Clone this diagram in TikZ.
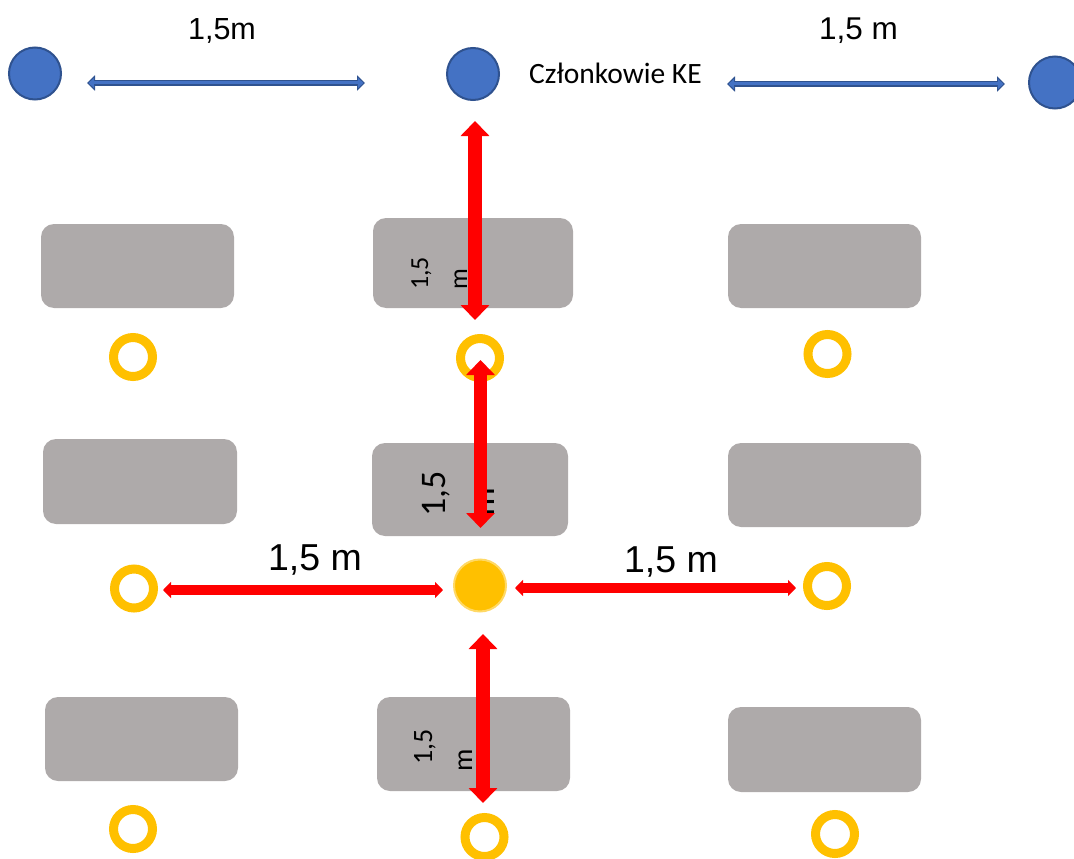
\documentclass[tikz,border=0pt]{standalone}
\usepackage{fontspec}
\setmainfont{Liberation Sans}
\newfontfamily\calib{Carlito}
\usetikzlibrary{arrows.meta}
\definecolor{bluefill}{HTML}{4472C4}
\definecolor{bluedark}{HTML}{2F528F}
\definecolor{gold}{HTML}{FFC000}
\definecolor{goldlight}{HTML}{FFD966}
\definecolor{tablegray}{HTML}{AEAAAA}
\definecolor{redarrow}{HTML}{FF0000}
\tikzset{
  tbl/.style={fill=tablegray, draw=none, rounded corners=13pt, inner sep=0pt},
  ring/.style={circle, draw=gold, line width=9pt, minimum size=39pt, inner sep=0pt},
  member/.style={circle, fill=bluefill, draw=bluedark, line width=2pt, minimum size=52pt, inner sep=0pt},
  bigred/.style={draw=redarrow, line width=13.5pt, {Triangle[width=28pt,length=15pt]}-{Triangle[width=28pt,length=15pt]}},
  smallred/.style={draw=redarrow, line width=10pt, {Triangle[width=16pt,length=8pt]}-{Triangle[width=16pt,length=8pt]}},
  bluearrowout/.style={draw=bluedark, line width=6pt, {Triangle[width=15pt,length=8pt]}-{Triangle[width=15pt,length=8pt]}},
  bluearrowin/.style={draw=bluefill, line width=3pt, shorten <=1.6pt, shorten >=1.6pt, {Triangle[width=10pt,length=5.5pt]}-{Triangle[width=10pt,length=5.5pt]}},
  lbl/.style={inner sep=0pt, text=black},
  rlbl/.style={inner sep=0pt, text=black, rotate=90, anchor=base west},
}
\begin{document}
\begin{tikzpicture}[x=1pt,y=-1pt]
\useasboundingbox (0,0) rectangle (1074,859);
% tables
\node[tbl, minimum width=193pt, minimum height=84pt] (b11) at (137.5,266) {};
\node[tbl, minimum width=200pt, minimum height=90pt] (b12) at (473,263) {};
\node[tbl, minimum width=193pt, minimum height=84pt] (b13) at (824.5,266) {};
\node[tbl, minimum width=194pt, minimum height=85pt] (b21) at (140,481.5) {};
\node[tbl, minimum width=196pt, minimum height=93pt] (b22) at (470,489.5) {};
\node[tbl, minimum width=193pt, minimum height=84pt] (b23) at (824.5,485) {};
\node[tbl, minimum width=193pt, minimum height=84pt] (b31) at (141.5,739) {};
\node[tbl, minimum width=193pt, minimum height=94pt] (b32) at (473.5,744) {};
\node[tbl, minimum width=193pt, minimum height=85pt] (b33) at (824.5,749.5) {};
% rotated labels on the middle tables
\node[rlbl, font=\calib\fontsize{26}{30}\selectfont] (l1a) at (428,290) {1,5};
\node[rlbl, font=\calib\fontsize{26}{30}\selectfont] (l1b) at (467,290) {m};
\node[rlbl, font=\calib\fontsize{36}{40}\selectfont] (l2a) at (445,517) {1,5};
\node[rlbl, font=\calib\fontsize{36}{40}\selectfont] (l2b) at (494,517) {m};
\node[rlbl, font=\calib\fontsize{28}{32}\selectfont] (l3a) at (432,765) {1,5};
\node[rlbl, font=\calib\fontsize{28}{32}\selectfont] (l3b) at (472,772) {m};
% seats
\node[ring] (r11) at (133,357) {};
\node[ring] (r12) at (480,358) {};
\node[ring] (r13) at (827.5,354) {};
\node[ring] (r21) at (134,588.5) {};
\node[circle, fill=gold, draw=goldlight, line width=2pt, minimum size=52pt, inner sep=0pt] (c) at (480,585.5) {};
\node[ring] (r23) at (827,586) {};
\node[ring] (r31) at (133,829) {};
\node[ring] (r32) at (484.5,837) {};
\node[ring] (r33) at (835,834) {};
% committee members
\node[member] (m1) at (35,73.5) {};
\node[member] (m2) at (473,74) {};
\node[member] (m3) at (1055,82.5) {};
% top labels
\node[lbl, anchor=base, font=\fontsize{30.5}{34}\selectfont] (t1) at (222,40) {1,5m};
\node[lbl, anchor=base, font=\fontsize{31.5}{34}\selectfont] (t2) at (858.5,40) {1,5 m};
\node[lbl, anchor=base west, font=\calib\fontsize{29.5}{32}\selectfont] (ke) at (529,84) {Członkowie KE};
\node[lbl, anchor=base, font=\fontsize{37.5}{42}\selectfont] (h1) at (315,570) {1,5 m};
\node[lbl, anchor=base, font=\fontsize{37.5}{42}\selectfont] (h2) at (671,572) {1,5 m};
% coordinates for arrow ends
\coordinate (ba1) at (87,83);
\coordinate (ba2) at (365,83);
\coordinate (ba3) at (727,84);
\coordinate (ba4) at (1005,84);
\coordinate (v1a) at (475,121);
\coordinate (v1b) at (475,320);
\coordinate (v2a) at (480.5,360);
\coordinate (v2b) at (480.5,528);
\coordinate (v3a) at (483,634);
\coordinate (v3b) at (483,803);
\coordinate (hla) at (163,590);
\coordinate (hlb) at (443,590);
\coordinate (hra) at (515,588);
\coordinate (hrb) at (796,588);
% blue arrows
\draw[bluearrowout] (ba1) -- (ba2);
\draw[bluearrowin] (ba1) -- (ba2);
\draw[bluearrowout] (ba3) -- (ba4);
\draw[bluearrowin] (ba3) -- (ba4);
% red arrows
\draw[bigred] (v1a) -- (v1b);
\draw[bigred] (v2a) -- (v2b);
\draw[bigred] (v3a) -- (v3b);
\draw[smallred] (hla) -- (hlb);
\draw[smallred] (hra) -- (hrb);
\end{tikzpicture}
\end{document}
